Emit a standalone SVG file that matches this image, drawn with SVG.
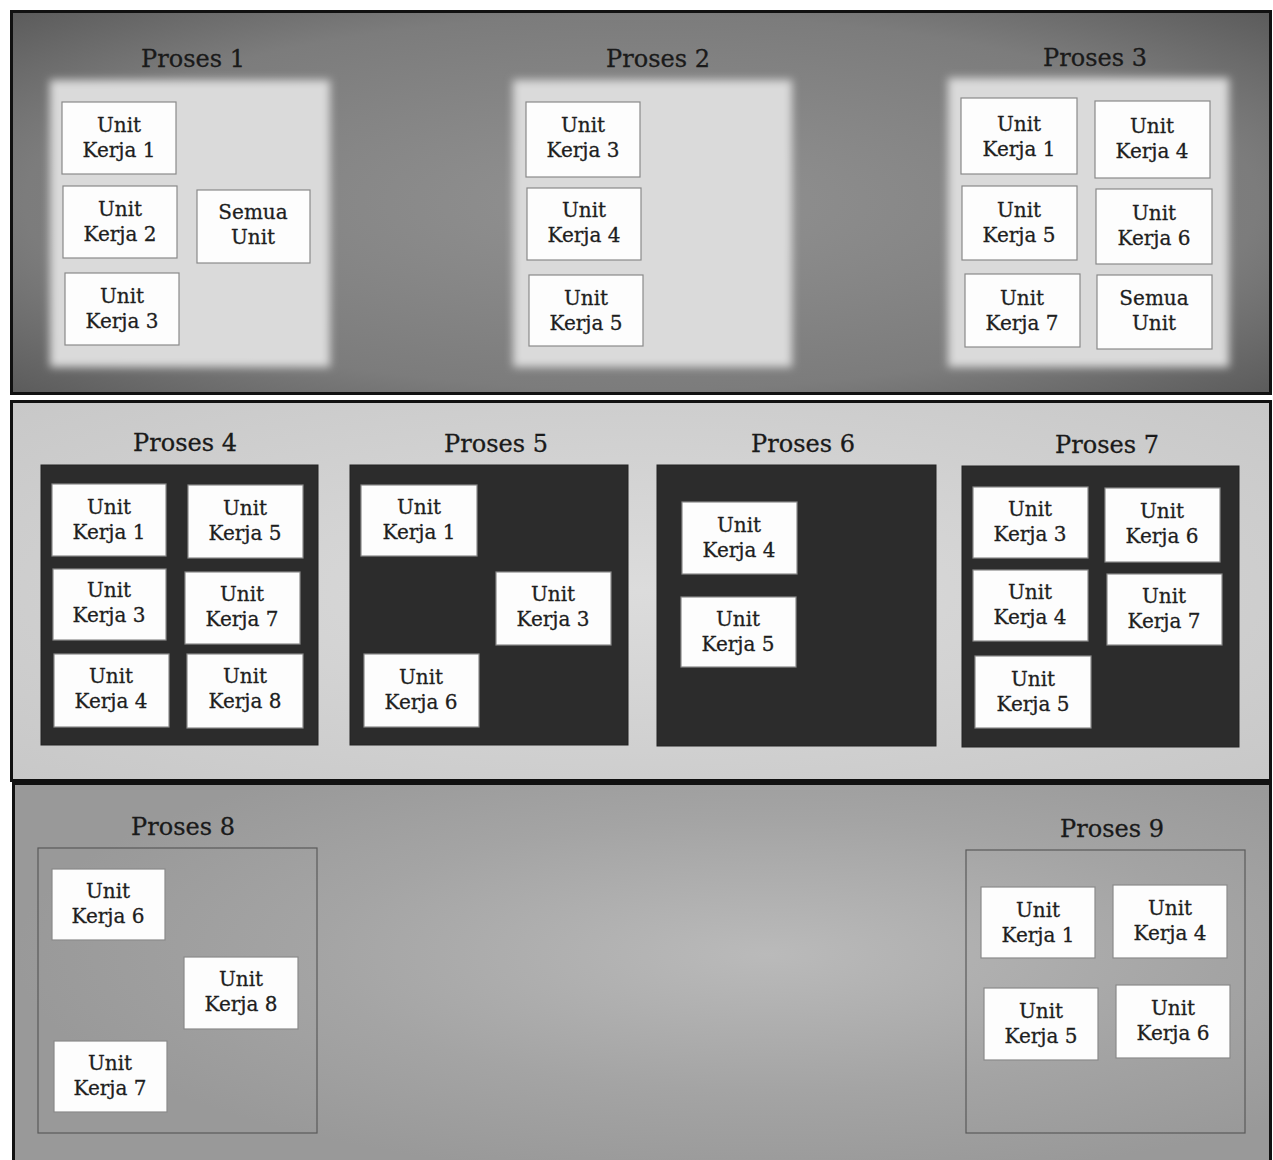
<svg xmlns="http://www.w3.org/2000/svg" width="1273" height="1160" viewBox="0 0 1273 1160">
<style>
.band{stroke:#111;stroke-width:3}
.title{font-family:"DejaVu Serif","Liberation Serif",serif;font-size:24px;fill:#1a1a1a;stroke:#1a1a1a;stroke-width:0.3;text-anchor:middle}
.node rect{fill:#fdfdfd;stroke:#8a8a8a;stroke-width:1.2}
.node text{font-family:"DejaVu Serif","Liberation Serif",serif;font-size:20px;fill:#1e1e1e;stroke:#1e1e1e;stroke-width:0.3;text-anchor:middle}
.lp{fill:#dadada}
.dp{fill:#2c2c2c;stroke:#222;stroke-width:1}
.op{fill:none;stroke:#5a5a5a;stroke-width:1.2}
</style>
<defs>
<radialGradient id="g1" cx="0.5" cy="0.5" r="0.7">
<stop offset="0" stop-color="#929292"/><stop offset="0.7" stop-color="#7c7c7c"/><stop offset="1" stop-color="#5c5c5c"/>
</radialGradient>
<radialGradient id="g2" cx="0.5" cy="0.5" r="0.7">
<stop offset="0" stop-color="#dcdcdc"/><stop offset="1" stop-color="#c8c8c8"/>
</radialGradient>
<radialGradient id="g3" cx="0.6" cy="0.45" r="0.6">
<stop offset="0" stop-color="#bababa"/><stop offset="0.6" stop-color="#a4a4a4"/><stop offset="1" stop-color="#999999"/>
</radialGradient>
<filter id="soft" x="-10%" y="-10%" width="120%" height="120%"><feGaussianBlur stdDeviation="4"/></filter>
</defs>
<rect x="0" y="0" width="1273" height="1160" fill="#ffffff"/>
<g id="bands">
<rect class="band" x="11.5" y="11.5" width="1259" height="382" fill="url(#g1)"/>
<rect class="band" x="11.5" y="401.5" width="1259" height="379" fill="url(#g2)"/>
<rect class="band" x="13.5" y="783.5" width="1257" height="380" fill="url(#g3)"/>
</g>
<g id="panels">
<rect class="lp" x="50" y="80" width="280" height="287" filter="url(#soft)"/>
<rect class="lp" x="513" y="80" width="279" height="287" filter="url(#soft)"/>
<rect class="lp" x="948" y="78" width="281" height="289" filter="url(#soft)"/>
<rect class="dp" x="41" y="465" width="277" height="280"/>
<rect class="dp" x="350" y="465" width="278" height="280"/>
<rect class="dp" x="657" y="465" width="279" height="281"/>
<rect class="dp" x="962" y="466" width="277" height="281"/>
<rect class="op" x="38" y="848" width="279" height="285"/>
<rect class="op" x="966" y="850" width="279" height="283"/>
</g>
<g id="titles">
<text class="title" x="193" y="67">Proses 1</text>
<text class="title" x="658" y="67">Proses 2</text>
<text class="title" x="1095" y="66">Proses 3</text>
<text class="title" x="185" y="451">Proses 4</text>
<text class="title" x="496" y="452">Proses 5</text>
<text class="title" x="803" y="452">Proses 6</text>
<text class="title" x="1107" y="453">Proses 7</text>
<text class="title" x="183" y="835">Proses 8</text>
<text class="title" x="1112" y="837">Proses 9</text>
</g>
<g id="connectors"></g>
<g id="p1-uk1" class="node"><rect x="62" y="102" width="114" height="72"/><text x="119" y="132">Unit</text><text x="119" y="157">Kerja 1</text></g>
<g id="p1-uk2" class="node"><rect x="63" y="186" width="114" height="72"/><text x="120" y="216">Unit</text><text x="120" y="241">Kerja 2</text></g>
<g id="p1-uk3" class="node"><rect x="65" y="273" width="114" height="72"/><text x="122" y="303">Unit</text><text x="122" y="328">Kerja 3</text></g>
<g id="p1-semua" class="node"><rect x="197" y="190" width="113" height="73"/><text x="253" y="219">Semua</text><text x="253" y="244">Unit</text></g>
<g id="p2-uk3" class="node"><rect x="526" y="102" width="114" height="75"/><text x="583" y="132">Unit</text><text x="583" y="157">Kerja 3</text></g>
<g id="p2-uk4" class="node"><rect x="527" y="188" width="114" height="72"/><text x="584" y="217">Unit</text><text x="584" y="242">Kerja 4</text></g>
<g id="p2-uk5" class="node"><rect x="529" y="275" width="114" height="71"/><text x="586" y="305">Unit</text><text x="586" y="330">Kerja 5</text></g>
<g id="p3-uk1" class="node"><rect x="961" y="98" width="116" height="76"/><text x="1019" y="131">Unit</text><text x="1019" y="156">Kerja 1</text></g>
<g id="p3-uk4" class="node"><rect x="1095" y="101" width="115" height="77"/><text x="1152" y="133">Unit</text><text x="1152" y="158">Kerja 4</text></g>
<g id="p3-uk5" class="node"><rect x="962" y="186" width="115" height="74"/><text x="1019" y="217">Unit</text><text x="1019" y="242">Kerja 5</text></g>
<g id="p3-uk6" class="node"><rect x="1096" y="189" width="116" height="75"/><text x="1154" y="220">Unit</text><text x="1154" y="245">Kerja 6</text></g>
<g id="p3-uk7" class="node"><rect x="965" y="274" width="115" height="73"/><text x="1022" y="305">Unit</text><text x="1022" y="330">Kerja 7</text></g>
<g id="p3-semua" class="node"><rect x="1097" y="275" width="115" height="74"/><text x="1154" y="305">Semua</text><text x="1154" y="330">Unit</text></g>
<g id="p4-uk1" class="node"><rect x="52" y="484" width="114" height="72"/><text x="109" y="514">Unit</text><text x="109" y="539">Kerja 1</text></g>
<g id="p4-uk5" class="node"><rect x="188" y="485" width="115" height="73"/><text x="245" y="515">Unit</text><text x="245" y="540">Kerja 5</text></g>
<g id="p4-uk3" class="node"><rect x="53" y="569" width="113" height="71"/><text x="109" y="597">Unit</text><text x="109" y="622">Kerja 3</text></g>
<g id="p4-uk7" class="node"><rect x="185" y="572" width="115" height="72"/><text x="242" y="601">Unit</text><text x="242" y="626">Kerja 7</text></g>
<g id="p4-uk4" class="node"><rect x="54" y="654" width="115" height="73"/><text x="111" y="683">Unit</text><text x="111" y="708">Kerja 4</text></g>
<g id="p4-uk8" class="node"><rect x="187" y="654" width="116" height="74"/><text x="245" y="683">Unit</text><text x="245" y="708">Kerja 8</text></g>
<g id="p5-uk1" class="node"><rect x="361" y="485" width="116" height="71"/><text x="419" y="514">Unit</text><text x="419" y="539">Kerja 1</text></g>
<g id="p5-uk3" class="node"><rect x="496" y="572" width="115" height="73"/><text x="553" y="601">Unit</text><text x="553" y="626">Kerja 3</text></g>
<g id="p5-uk6" class="node"><rect x="364" y="654" width="115" height="73"/><text x="421" y="684">Unit</text><text x="421" y="709">Kerja 6</text></g>
<g id="p6-uk4" class="node"><rect x="682" y="502" width="115" height="72"/><text x="739" y="532">Unit</text><text x="739" y="557">Kerja 4</text></g>
<g id="p6-uk5" class="node"><rect x="681" y="597" width="115" height="70"/><text x="738" y="626">Unit</text><text x="738" y="651">Kerja 5</text></g>
<g id="p7-uk3" class="node"><rect x="973" y="487" width="115" height="71"/><text x="1030" y="516">Unit</text><text x="1030" y="541">Kerja 3</text></g>
<g id="p7-uk6" class="node"><rect x="1105" y="488" width="115" height="74"/><text x="1162" y="518">Unit</text><text x="1162" y="543">Kerja 6</text></g>
<g id="p7-uk4" class="node"><rect x="973" y="570" width="115" height="71"/><text x="1030" y="599">Unit</text><text x="1030" y="624">Kerja 4</text></g>
<g id="p7-uk7" class="node"><rect x="1107" y="574" width="115" height="71"/><text x="1164" y="603">Unit</text><text x="1164" y="628">Kerja 7</text></g>
<g id="p7-uk5" class="node"><rect x="975" y="656" width="116" height="72"/><text x="1033" y="686">Unit</text><text x="1033" y="711">Kerja 5</text></g>
<g id="p8-uk6" class="node"><rect x="52" y="869" width="113" height="71"/><text x="108" y="898">Unit</text><text x="108" y="923">Kerja 6</text></g>
<g id="p8-uk8" class="node"><rect x="184" y="957" width="114" height="72"/><text x="241" y="986">Unit</text><text x="241" y="1011">Kerja 8</text></g>
<g id="p8-uk7" class="node"><rect x="54" y="1041" width="113" height="71"/><text x="110" y="1070">Unit</text><text x="110" y="1095">Kerja 7</text></g>
<g id="p9-uk1" class="node"><rect x="981" y="887" width="114" height="71"/><text x="1038" y="917">Unit</text><text x="1038" y="942">Kerja 1</text></g>
<g id="p9-uk4" class="node"><rect x="1113" y="885" width="114" height="73"/><text x="1170" y="915">Unit</text><text x="1170" y="940">Kerja 4</text></g>
<g id="p9-uk5" class="node"><rect x="984" y="988" width="114" height="72"/><text x="1041" y="1018">Unit</text><text x="1041" y="1043">Kerja 5</text></g>
<g id="p9-uk6" class="node"><rect x="1116" y="985" width="114" height="73"/><text x="1173" y="1015">Unit</text><text x="1173" y="1040">Kerja 6</text></g>
</svg>
